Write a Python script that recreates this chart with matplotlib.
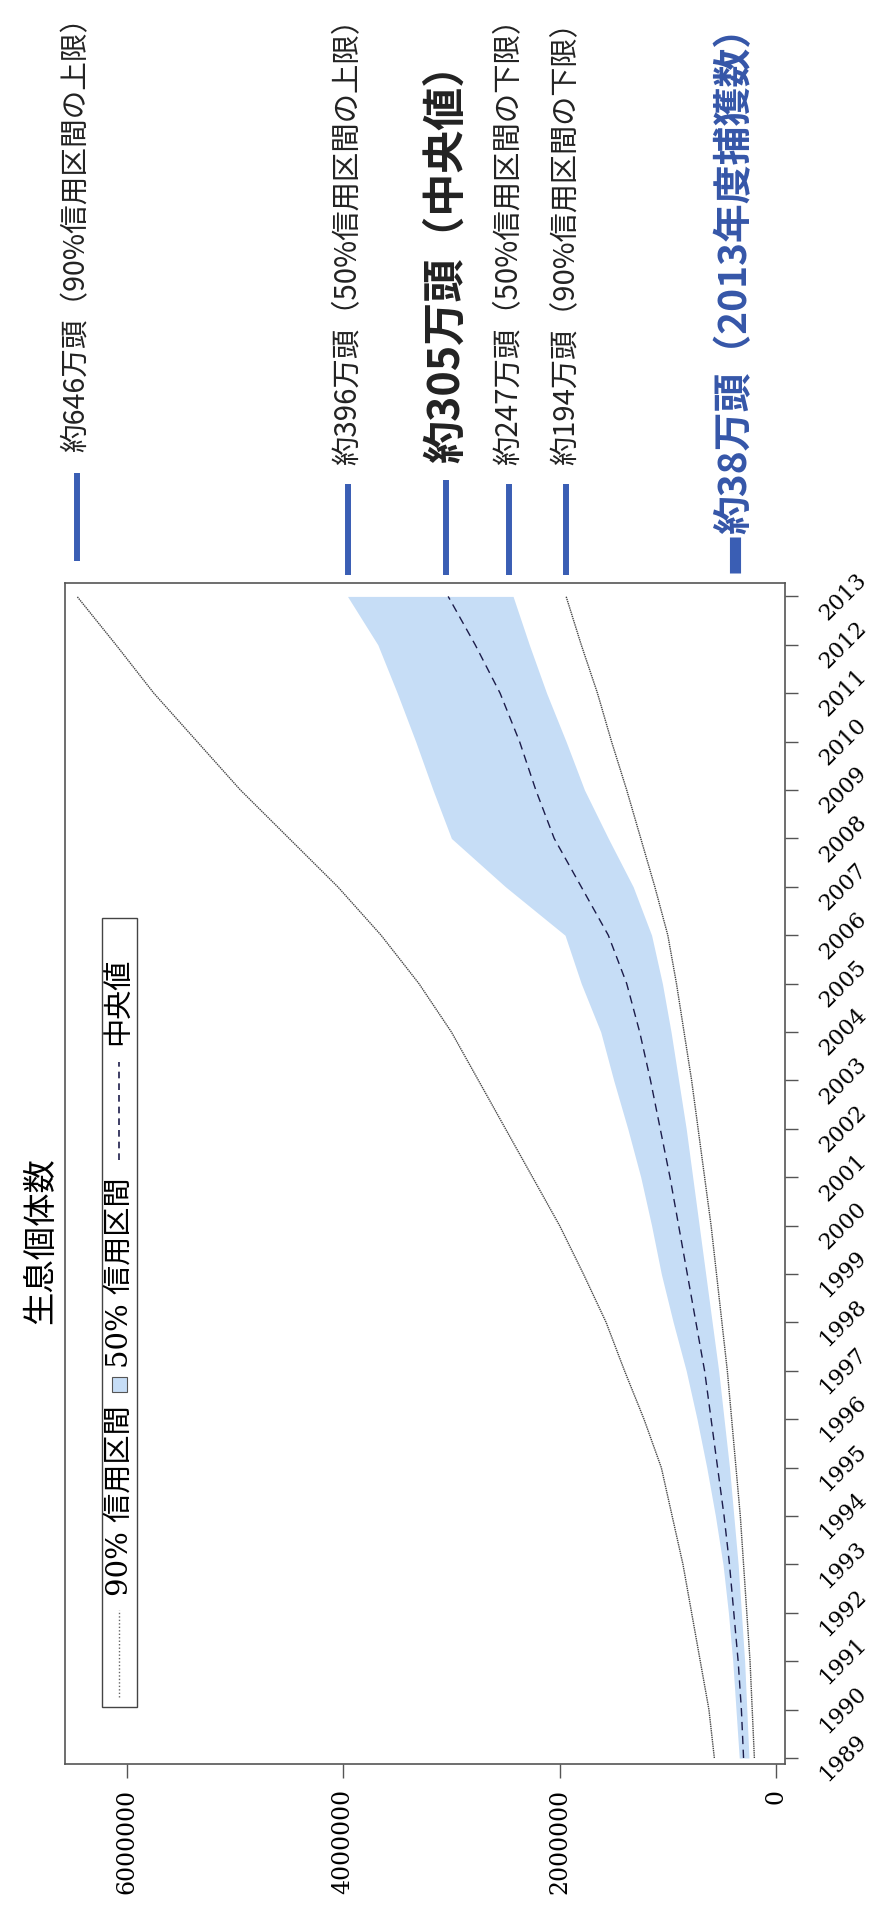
import matplotlib.pyplot as plt
from matplotlib.patches import Rectangle
from matplotlib.transforms import blended_transform_factory

# 推定値 (百万頭)
years = list(range(1989, 2014))
upper90 = [0.57, 0.62, 0.70, 0.78, 0.86, 0.96, 1.06, 1.22, 1.40, 1.57, 1.78, 2.00, 2.25,
           2.50, 2.75, 3.00, 3.30, 3.65, 4.05, 4.50, 4.95, 5.35, 5.75, 6.10, 6.46]
upper50 = [0.34, 0.37, 0.40, 0.44, 0.49, 0.56, 0.64, 0.73, 0.83, 0.95, 1.06, 1.15, 1.25,
           1.37, 1.50, 1.62, 1.80, 1.95, 2.50, 3.00, 3.17, 3.33, 3.50, 3.68, 3.96]
median = [0.30, 0.32, 0.35, 0.39, 0.43, 0.48, 0.54, 0.60, 0.66, 0.74, 0.82, 0.90, 0.98,
          1.07, 1.16, 1.26, 1.38, 1.55, 1.80, 2.05, 2.22, 2.37, 2.55, 2.78, 3.03]
lower50 = [0.25, 0.27, 0.29, 0.32, 0.35, 0.39, 0.43, 0.48, 0.53, 0.59, 0.65, 0.71, 0.77,
           0.83, 0.90, 0.97, 1.05, 1.15, 1.32, 1.55, 1.77, 1.94, 2.12, 2.28, 2.43]
lower90 = [0.20, 0.22, 0.24, 0.27, 0.30, 0.33, 0.37, 0.41, 0.45, 0.50, 0.55, 0.60, 0.66,
           0.72, 0.78, 0.85, 0.92, 1.00, 1.12, 1.25, 1.38, 1.52, 1.65, 1.80, 1.94]
upper90 = [v * 1e6 for v in upper90]
upper50 = [v * 1e6 for v in upper50]
median = [v * 1e6 for v in median]
lower50 = [v * 1e6 for v in lower50]
lower90 = [v * 1e6 for v in lower90]

xticks = [0, 2000000, 4000000, 6000000]

note_values = [6460000, 3960000, 3050000, 2470000, 1940000, 380000]
note_texts = ['約646万頭（90%信用区間の上限）', '約396万頭（50%信用区間の上限）',
              '約305万頭（中央値）', '約247万頭（50%信用区間の下限）',
              '約194万頭（90%信用区間の下限）', '約38万頭（2013年度捕獲数）']

W, H = 870, 1909
def fy(py):
    return 1 - py / H

jp = ['Noto Sans CJK JP', 'DejaVu Sans']
serif_jp = ['DejaVu Serif', 'Noto Sans CJK JP']
blue = '#3a5eb4'

fig = plt.figure(figsize=(W / 100, H / 100), dpi=100)
ax = fig.add_axes([65 / W, fy(1764), (785 - 65) / W, (1764 - 583) / H])

ax.fill_betweenx(years, lower50, upper50, color='#c6ddf6', lw=0)
ax.plot(upper90, years, color='#444444', lw=1.0, ls=(0, (1, 0.6)))
ax.plot(lower90, years, color='#444444', lw=1.0, ls=(0, (1, 0.6)))
ax.plot(median, years, color='#1c1c4a', lw=1.0, ls=(0, (6, 4)))

ax.set_xlim(6.571e6, -0.083e6)
ax.set_ylim(1988.876, 2013.277)
ax.set_xticks(xticks)
ax.set_xticklabels([str(v) for v in xticks], rotation=90, family='DejaVu Serif', fontsize=17)
ax.yaxis.tick_right()
ax.set_yticks(years)
ax.set_yticklabels([str(y) for y in years], rotation=45, family='DejaVu Serif',
                   fontsize=16, ha='left', va='center')
ax.tick_params(axis='x', length=10, width=1, pad=8, color='#555555')
ax.tick_params(axis='y', length=9, width=1, pad=13, color='#555555')
for s in ax.spines.values():
    s.set_color('#555555')
    s.set_linewidth(1.2)

# タイトル
fig.text(41 / W, fy(1241), '生息個体数', rotation=90, ha='center', va='center',
         fontsize=24, family=jp)

# 凡例（回転）
lx0, lx1, ly0, ly1 = 102, 137, 918, 1707
fig.patches.append(Rectangle((lx0 / W, fy(ly1)), (lx1 - lx0) / W, (ly1 - ly0) / H,
                             transform=fig.transFigure, fill=False, ec='#444444', lw=1.0))
cx = (lx0 + lx1) / 2 / W
fig.lines.append(plt.Line2D([cx, cx], [fy(1697), fy(1610)], transform=fig.transFigure,
                            color='#666666', lw=1.0, ls=(0, (1, 1.5))))
fig.text(cx, fy(1596), '90% 信用区間', rotation=90, ha='center', va='bottom',
         fontsize=21, family=serif_jp)
fig.patches.append(Rectangle(((lx0 + 10) / W, fy(1392)), 15 / W, 15 / H,
                             transform=fig.transFigure, fc='#c6ddf6', ec='#555555', lw=0.8))
fig.text(cx, fy(1368), '50% 信用区間', rotation=90, ha='center', va='bottom',
         fontsize=21, family=serif_jp)
fig.lines.append(plt.Line2D([cx, cx], [fy(1160), fy(1062)], transform=fig.transFigure,
                            color='#1c1c4a', lw=1.2, ls=(0, (4, 3))))
fig.text(cx, fy(1045), '中央値', rotation=90, ha='center', va='bottom',
         fontsize=21, family=jp)

# 注記
tr = blended_transform_factory(ax.transData, fig.transFigure)
bar_top = [473, 484, 480, 484, 484, 537]
bar_bot = [561, 575, 575, 575, 575, 573]
text_bot = [452, 465, 463, 465, 465, 534]
sizes = [20.6, 21.2, 31, 21.2, 21, 28]
weights = ['normal', 'normal', 'bold', 'normal', 'normal', 'bold']
colors = ['#222222', '#222222', '#222222', '#222222', '#222222', '#3556a8']
widths = [4.3, 4.3, 4.3, 4.3, 4.3, 8]
for i in range(len(note_values)):
    v = note_values[i]
    ax.plot([v, v], [fy(bar_top[i]), fy(bar_bot[i])], transform=tr, color=blue,
            lw=widths[i], solid_capstyle='butt', clip_on=False)
    ax.text(v, fy(text_bot[i]), note_texts[i], transform=tr, rotation=90, ha='center',
            va='bottom', fontsize=sizes[i], fontweight=weights[i], color=colors[i], family=jp)

fig.savefig('out.png', dpi=100)
